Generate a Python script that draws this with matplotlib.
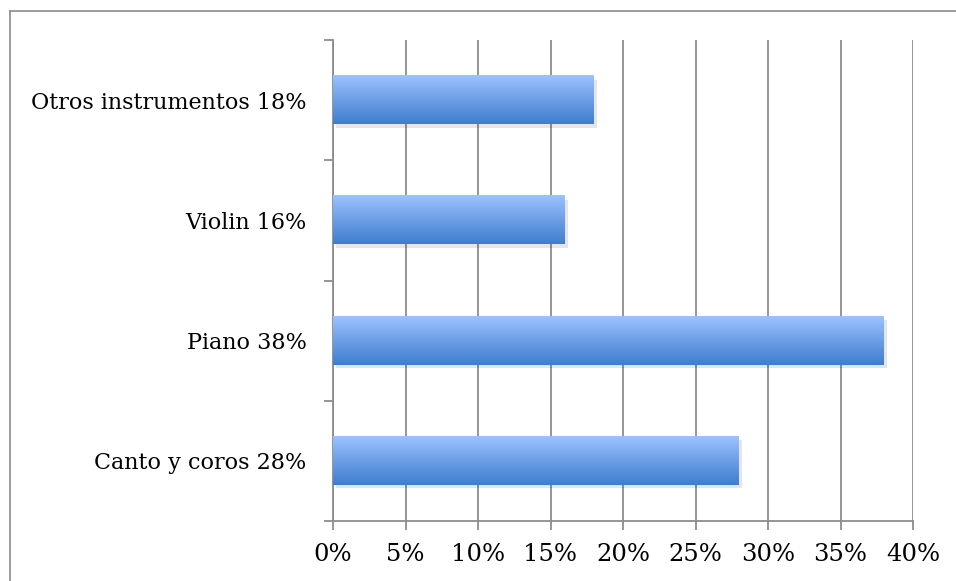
import matplotlib
matplotlib.use("Agg")
import matplotlib.pyplot as plt
import matplotlib.patheffects as pe
from matplotlib.colors import LinearSegmentedColormap
from matplotlib.ticker import FixedLocator, PercentFormatter
import numpy as np

# data
categorias = ["Canto y coros 28%", "Piano 38%", "Violin 16%", "Otros instrumentos 18%"]
valores = [28, 38, 16, 18]
xticks = [0, 5, 10, 15, 20, 25, 30, 35, 40]

plt.rcParams["font.family"] = ["DejaVu Serif"]
plt.rcParams["font.size"] = 16

gris = "#8c8c8c"
grad = LinearSegmentedColormap.from_list("azul", ["#3e7ecf", "#6d9ee6", "#9cc3ff"])

fig = plt.figure(figsize=(9.56, 5.81), dpi=100)
ax = fig.add_axes([333/956, 1-521/581, 580/956, 481/581])

y = np.arange(len(categorias))
bars = ax.barh(y, valores, height=0.4, color="#6d9ee6", zorder=3,
               path_effects=[pe.SimplePatchShadow(offset=(2, -2.5), shadow_rgbFace="#000000", alpha=0.1), pe.Normal()])

# gradient fill on top of each bar
g = np.linspace(0, 1, 256).reshape(-1, 1)
for b in bars:
    x0, y0, w, h = b.get_x(), b.get_y(), b.get_width(), b.get_height()
    ax.imshow(g, cmap=grad, aspect="auto", extent=(x0, x0+w, y0, y0+h),
              origin="lower", zorder=4, interpolation="bilinear")

ax.set_xlim(0, 40)
ax.set_ylim(-0.5, len(categorias)-0.5)
ax.set_xticks(xticks)
ax.xaxis.set_major_formatter(PercentFormatter(decimals=0))
ax.set_yticks(y)
ax.set_yticklabels(categorias)
ax.yaxis.set_minor_locator(FixedLocator(np.arange(-0.5, len(categorias), 1)))

ax.grid(axis="x", color=gris, linewidth=1.3, zorder=1)
ax.tick_params(axis="x", length=6.5, width=1.3, color=gris, pad=9, labelsize=17.5)
ax.tick_params(axis="y", which="major", length=0, pad=19)
ax.tick_params(axis="y", which="minor", length=6.5, width=1.3, color=gris)
for s in ["top", "right"]:
    ax.spines[s].set_visible(False)
for s in ["left", "bottom"]:
    ax.spines[s].set_color(gris)
    ax.spines[s].set_linewidth(1.3)

# outer chart frame (only left and top edges are inside the image)
fig.add_artist(plt.Line2D([10/956, 10/956], [0, 1-11/581], color=gris, linewidth=1.2))
fig.add_artist(plt.Line2D([10/956, 1], [1-11/581, 1-11/581], color=gris, linewidth=1.2))

fig.savefig("out.png", dpi=100)
